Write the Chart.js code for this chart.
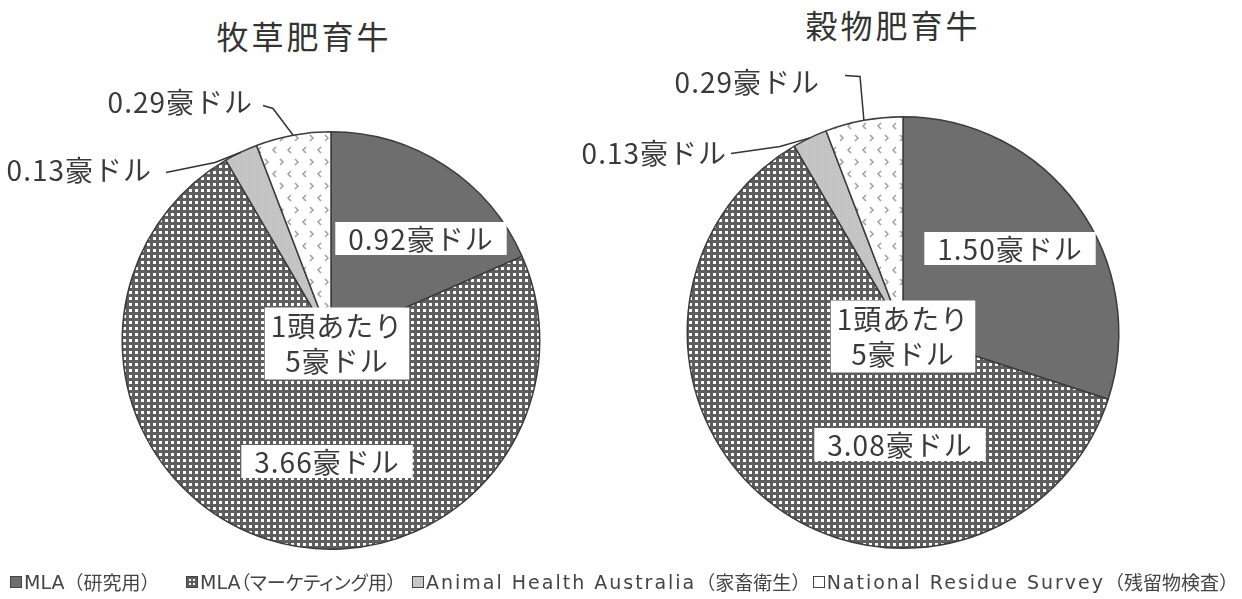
<!DOCTYPE html>
<html>
<head>
<meta charset="utf-8">
<script src="https://cdn.jsdelivr.net/npm/chart.js@4.4.1/dist/chart.umd.min.js"></script>
<style>
  body { margin: 0; background: #fff; width: 1242px; height: 599px; overflow: hidden; position: relative;
         font-family: "Noto Sans CJK JP", sans-serif; color: #3a3a3a; }
  canvas { position: absolute; top: 0; }
  .title { position: absolute; font-size: 32px; letter-spacing: 3px; transform: translate(-50%, -50%); white-space: nowrap; color: #333; }
  .legend-item { position: absolute; top: 570px; font-size: 19px; line-height: 24px; white-space: nowrap;
                 display: flex; align-items: center; color: #444;
                 font-family: "DejaVu Sans", "Noto Sans CJK JP", sans-serif; }
  .legend-item i { display: inline-block; flex: none; width: 10px; height: 10px; border: 1px solid #444; margin-right: 2px; }
  .legend-item .jp { font-family: "Noto Sans CJK JP", sans-serif; }
  .legend-item .en.wide { letter-spacing: 2px; }
  .legend-item .jp.kana { font-feature-settings: "palt"; }
</style>
</head>
<body>
<div class="title" id="title0" style="left:304px;top:35px"></div>
<div class="title" id="title1" style="left:893px;top:24px"></div>
<canvas id="grassChart" width="662" height="599" style="left:0"></canvas>
<canvas id="grainChart" width="682" height="599" style="left:560px"></canvas>
<div id="legend"></div>
<script>
// データ（豪ドル／頭）
const categories = ['MLA（研究用）', 'MLA（マーケティング用）', 'Animal Health Australia（家畜衛生）', 'National Residue Survey（残留物検査）'];
const grassValues = [0.92, 3.66, 0.13, 0.29];
const grainValues = [1.50, 3.08, 0.13, 0.29];
const chartTitles = ['牧草肥育牛', '穀物肥育牛'];
const perHeadText = '1頭あたり';
const perHeadTotal = 5;
const unit = '豪ドル';

const textColor = '#3a3a3a';
const labelFont = '28px "Noto Sans CJK JP", sans-serif';

// 塗りパターン
function makePattern(kind) {
  const c = document.createElement('canvas');
  const g = c.getContext('2d');
  if (kind === 'grid') {
    c.width = c.height = 6;
    g.fillStyle = '#fff'; g.fillRect(0, 0, 6, 6);
    g.fillStyle = '#5e5e5e'; g.fillRect(0, 0, 6, 3); g.fillRect(0, 0, 3, 6);
  } else if (kind === 'light') {
    c.width = c.height = 4;
    g.fillStyle = '#c6c6c6'; g.fillRect(0, 0, 4, 4);
    g.fillStyle = '#b8b8b8'; g.fillRect(0, 0, 1, 1); g.fillRect(2, 2, 1, 1);
  } else {
    c.width = 15; c.height = 24;
    g.fillStyle = '#fff'; g.fillRect(0, 0, 15, 24);
    g.strokeStyle = '#a0a0a0'; g.lineWidth = 1.5;
    g.beginPath();
    g.moveTo(6, 3); g.lineTo(3, 6); g.lineTo(6, 9);
    g.moveTo(10, 15); g.lineTo(13, 18); g.lineTo(10, 21);
    g.stroke();
  }
  return g.createPattern(c, 'repeat');
}
const fills = ['#6e6e6e', makePattern('grid'), makePattern('light'), makePattern('dots')];

const labelPlugin = {
  id: 'sliceLabels',
  afterDatasetsDraw(chart, args, opts) {
    const ctx = chart.ctx;
    const arcs = chart.getDatasetMeta(0).data;
    const vals = chart.data.datasets[0].data;
    const cx = arcs[0].x, cy = arcs[0].y, r = arcs[0].outerRadius;
    ctx.save();
    ctx.font = labelFont;
    ctx.letterSpacing = '1px';
    ctx.textBaseline = 'middle';

    // 枠付きラベル
    opts.inner.forEach(s => {
      const txt = vals[s.i].toFixed(2) + unit;
      const x = cx + s.dx, y = cy + s.dy;
      const w = ctx.measureText(txt).width + 26, h = 33;
      ctx.fillStyle = '#fff';
      ctx.fillRect(x - w / 2, y - h / 2, w, h);
      ctx.fillStyle = textColor;
      ctx.textAlign = 'center';
      ctx.fillText(txt, x, y + 1);
    });

    // 中央ラベル
    const c = opts.centre;
    const lines = [perHeadText, perHeadTotal + unit];
    const w = Math.max(...lines.map(t => ctx.measureText(t).width)) + 12;
    ctx.fillStyle = '#fff';
    ctx.fillRect(cx + c.dx - w / 2, cy + c.dy - 36, w, 72);
    ctx.fillStyle = textColor;
    ctx.textAlign = 'center';
    ctx.fillText(lines[0], cx + c.dx, cy + c.dy - 17);
    ctx.fillText(lines[1], cx + c.dx, cy + c.dy + 18);

    // 引き出し線付きラベル
    ctx.strokeStyle = '#333';
    ctx.lineWidth = 1.5;
    opts.outer.forEach(s => {
      const a = arcs[s.i];
      const mid = (a.startAngle + a.endAngle) / 2;
      ctx.beginPath();
      ctx.moveTo(cx + Math.cos(mid) * r, cy + Math.sin(mid) * r);
      s.path.forEach(p => ctx.lineTo(cx + p[0], cy + p[1]));
      ctx.stroke();
      ctx.fillStyle = textColor;
      ctx.textAlign = 'right';
      ctx.fillText(vals[s.i].toFixed(2) + unit, cx + s.tx, cy + s.ty);
    });
    ctx.restore();
  }
};

function makeChart(id, values, padding, labels) {
  return new Chart(document.getElementById(id), {
    type: 'pie',
    data: {
      labels: categories,
      datasets: [{
        data: values,
        backgroundColor: fills,
        borderColor: '#3c3c3c',
        borderWidth: 1.5
      }]
    },
    options: {
      responsive: false,
      animation: false,
      layout: { padding },
      plugins: {
        legend: { display: false },
        tooltip: { enabled: false },
        sliceLabels: labels
      }
    },
    plugins: [labelPlugin]
  });
}

makeChart('grassChart', grassValues, { top: 131, bottom: 49, left: 0, right: 0 }, {
  inner: [{ i: 0, dx: 90, dy: -102 }, { i: 1, dx: -4, dy: 121 }],
  centre: { dx: 6, dy: 3 },
  outer: [
    { i: 3, path: [[-58, -232], [-68, -235]], tx: -78, ty: -238 },
    { i: 2, path: [[-116, -178], [-165, -168]], tx: -179, ty: -170 }
  ]
});

makeChart('grainChart', grainValues, { top: 116, bottom: 50, left: 4, right: 0 }, {
  inner: [{ i: 0, dx: 107, dy: -84 }, { i: 1, dx: -3, dy: 112 }],
  centre: { dx: 0, dy: 4 },
  outer: [
    { i: 3, path: [[-43, -256], [-58, -257]], tx: -83, ty: -250 },
    { i: 2, path: [[-123, -186], [-172, -179]], tx: -176, ty: -179 }
  ]
});

document.getElementById('title0').textContent = chartTitles[0];
document.getElementById('title1').textContent = chartTitles[1];

// 凡例
const legendSwatch = [
  'background:#6e6e6e',
  'background-color:#fff;background-image:linear-gradient(#5e5e5e 2px,transparent 2px),linear-gradient(90deg,#5e5e5e 2px,transparent 2px);background-size:4px 4px',
  'background:#c6c6c6',
  'background:#fff'
];
const legendLeft = [10, 186, 412, null];
const legendRight = 1238;
const legend = document.getElementById('legend');
categories.forEach((name, i) => {
  const cut = name.indexOf('（');
  const latin = name.slice(0, cut), jp = name.slice(cut);
  const item = document.createElement('div');
  item.className = 'legend-item';
  const enCls = latin.length > 3 ? 'en wide' : 'en';
  const jpCls = i === 1 ? 'jp kana' : 'jp';
  item.innerHTML = '<i style="' + legendSwatch[i] + '"></i><span class="' + enCls + '">' + latin +
                   '</span><span class="' + jpCls + '">' + jp + '</span>';
  if (legendLeft[i] !== null) item.style.left = legendLeft[i] + 'px';
  else item.style.right = (1242 - legendRight) + 'px';
  legend.appendChild(item);
});
</script>
</body>
</html>
